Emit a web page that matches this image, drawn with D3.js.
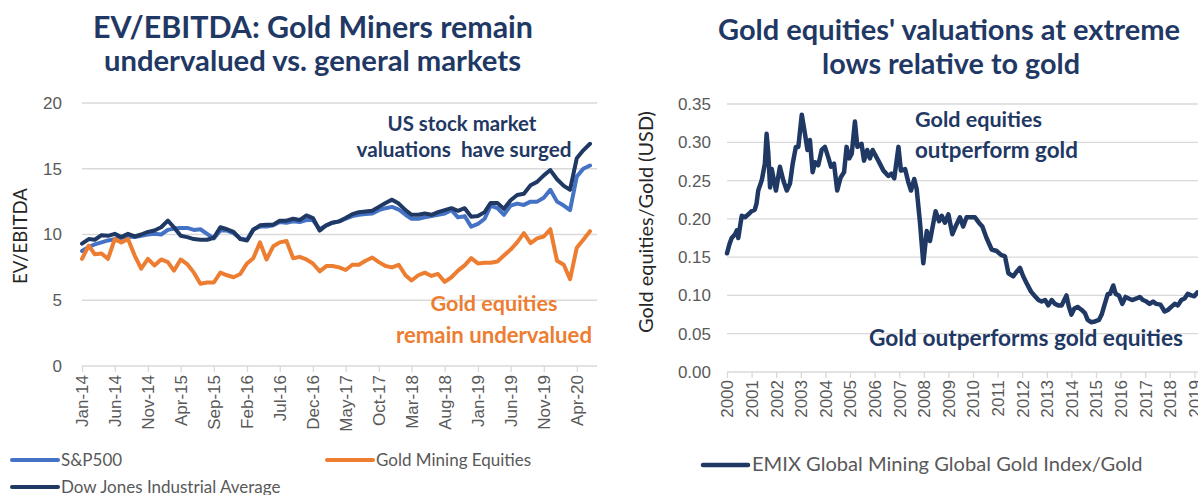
<!DOCTYPE html>
<html>
<head>
<meta charset="utf-8">
<script src="https://cdn.jsdelivr.net/npm/d3@7"></script>
<style>
  body { margin: 0; background: #fff; }
  svg { display: block; font-family: Lato, "Liberation Sans", sans-serif; }
</style>
</head>
<body>
<svg id="chart" width="1198" height="495"></svg>
<script>

//******************************************************************************
//**  Data
//******************************************************************************

// left panel: monthly EV/EBITDA, Jan-14 .. Jun-20
var evStart = new Date(2014, 0, 1);
var evTickLabels = ["Jan-14","Jun-14","Nov-14","Apr-15","Sep-15","Feb-16","Jul-16","Dec-16",
                    "May-17","Oct-17","Mar-18","Aug-18","Jan-19","Jun-19","Nov-19","Apr-20"];

var sp500 = [
  8.75, 9.05, 9.25, 9.4, 9.55, 9.65, 9.75, 9.85, 9.8, 9.9,
  10.0, 10.05, 10.0, 10.35, 10.45, 10.5, 10.5, 10.35, 10.4, 10.05,
  9.7, 10.3, 10.3, 10.1, 9.7, 9.6, 10.4, 10.6, 10.6, 10.7,
  10.95, 10.9, 11.0, 10.95, 11.1, 11.1, 10.4, 10.7, 10.9, 11.0,
  11.2, 11.4, 11.5, 11.55, 11.6, 11.85, 12.0, 12.1, 11.9, 11.5,
  11.2, 11.2, 11.3, 11.4, 11.5, 11.6, 11.85, 11.3, 11.4, 10.6,
  10.8, 11.2, 12.2, 12.0, 11.5, 12.2, 12.35, 12.25, 12.5, 12.5,
  12.8, 13.4, 12.5, 12.2, 11.85, 14.4, 15.0, 15.25
];

var dowJones = [
  9.3, 9.65, 9.6, 9.95, 9.9, 10.05, 9.8, 10.05, 9.85, 10.0,
  10.2, 10.3, 10.55, 11.05, 10.55, 9.9, 9.8, 9.65, 9.6, 9.6,
  9.75, 10.55, 10.4, 10.2, 9.65, 9.55, 10.35, 10.7, 10.75, 10.75,
  11.05, 11.05, 11.2, 11.1, 11.45, 11.25, 10.3, 10.7, 10.9, 11.0,
  11.25, 11.55, 11.7, 11.75, 11.8, 12.1, 12.4, 12.65, 12.35, 11.85,
  11.5, 11.5, 11.6, 11.5, 11.7, 11.85, 12.0, 11.8, 12.0, 11.35,
  11.4, 11.7, 12.4, 12.4, 11.95, 12.6, 13.0, 13.1, 13.75, 14.0,
  14.5, 14.9, 14.2, 13.7, 13.4, 15.8, 16.4, 16.9
];

var goldMiners = [
  8.15, 9.15, 8.5, 8.55, 8.15, 9.65, 9.4, 9.65, 8.4, 7.4,
  8.15, 7.65, 8.1, 7.9, 7.25, 8.1, 7.75, 7.1, 6.25, 6.35,
  6.35, 7.1, 6.9, 6.75, 7.0, 7.8, 8.2, 9.4, 8.1, 9.1,
  9.4, 9.5, 8.2, 8.3, 8.1, 7.8, 7.2, 7.6, 7.6, 7.5,
  7.3, 7.7, 7.7, 8.0, 8.25, 7.9, 7.6, 7.5, 7.7, 6.9,
  6.5, 6.9, 7.1, 6.85, 7.0, 6.4, 6.75, 7.25, 7.65, 8.2,
  7.8, 7.85, 7.85, 7.95, 8.4, 8.85, 9.4, 10.1, 9.35, 9.7,
  9.85, 10.4, 8.0, 7.7, 6.6, 9.0, 9.6, 10.25
];

// right panel: EMIX Global Mining Global Gold Index / Gold
var emixYears = [
  2000.0, 2000.1, 2000.19, 2000.33, 2000.4, 2000.46, 2000.53, 2000.6, 2000.73, 2000.87,
  2001.0, 2001.13, 2001.2, 2001.27, 2001.41, 2001.54, 2001.61, 2001.68, 2001.75, 2001.82,
  2001.91, 2001.99, 2002.15, 2002.29, 2002.43, 2002.56, 2002.67, 2002.8, 2002.9, 2003.04,
  2003.17, 2003.27, 2003.37, 2003.48, 2003.58, 2003.71, 2003.85, 2003.98, 2004.12, 2004.23,
  2004.35, 2004.48, 2004.62, 2004.76, 2004.86, 2004.97, 2005.07, 2005.2, 2005.3, 2005.47,
  2005.57, 2005.7, 2005.81, 2005.92, 2006.0, 2006.15, 2006.36, 2006.56, 2006.68, 2006.8,
  2006.97, 2007.07, 2007.24, 2007.37, 2007.48, 2007.61, 2007.71, 2007.84, 2007.98, 2008.12,
  2008.25, 2008.39, 2008.48, 2008.62, 2008.73, 2008.86, 2009.0, 2009.16, 2009.29, 2009.47,
  2009.6, 2009.74, 2009.94, 2010.08, 2010.24, 2010.38, 2010.55, 2010.76, 2010.96, 2011.14,
  2011.3, 2011.44, 2011.64, 2011.77, 2011.91, 2012.04, 2012.18, 2012.36, 2012.52, 2012.66,
  2012.79, 2012.93, 2013.06, 2013.2, 2013.33, 2013.47, 2013.6, 2013.8, 2013.9, 2014.0,
  2014.12, 2014.25, 2014.42, 2014.55, 2014.66, 2014.8, 2014.96, 2015.12, 2015.23, 2015.34,
  2015.48, 2015.57, 2015.7, 2015.8, 2015.93, 2016.07, 2016.2, 2016.33, 2016.47, 2016.65,
  2016.78, 2016.91, 2017.05, 2017.18, 2017.32, 2017.45, 2017.62, 2017.79, 2017.92, 2018.06,
  2018.2, 2018.33, 2018.47, 2018.6, 2018.73, 2018.87, 2019.0, 2019.12, 2019.3
];

var emixRatio = [
  0.155, 0.167, 0.175, 0.18, 0.185, 0.175, 0.19, 0.204, 0.202, 0.206,
  0.21, 0.212, 0.22, 0.237, 0.25, 0.272, 0.311, 0.285, 0.241, 0.265,
  0.25, 0.237, 0.268, 0.25, 0.237, 0.246, 0.272, 0.294, 0.294, 0.336,
  0.311, 0.29, 0.303, 0.261, 0.274, 0.27, 0.29, 0.294, 0.28, 0.268,
  0.272, 0.237, 0.254, 0.261, 0.294, 0.279, 0.285, 0.327, 0.294, 0.298,
  0.276, 0.29, 0.279, 0.29, 0.285, 0.276, 0.263, 0.256, 0.259, 0.253,
  0.294, 0.263, 0.265, 0.248, 0.237, 0.252, 0.239, 0.197, 0.142, 0.184,
  0.171, 0.195, 0.21, 0.197, 0.204, 0.195, 0.206, 0.18, 0.19, 0.202,
  0.19, 0.202, 0.202, 0.202, 0.195, 0.19, 0.175, 0.16, 0.158, 0.153,
  0.151, 0.129, 0.125, 0.131, 0.136, 0.125, 0.116, 0.105, 0.099, 0.094,
  0.092, 0.094, 0.087, 0.094, 0.089, 0.087, 0.087, 0.10, 0.085, 0.075,
  0.083, 0.085, 0.081, 0.077, 0.068, 0.065, 0.066, 0.068, 0.075, 0.087,
  0.102, 0.102, 0.113, 0.102, 0.10, 0.089, 0.098, 0.096, 0.094, 0.096,
  0.098, 0.094, 0.092, 0.089, 0.092, 0.089, 0.088, 0.079, 0.081, 0.085,
  0.089, 0.087, 0.094, 0.096, 0.102, 0.10, 0.099, 0.104, 0.10
];

var yearLabels = ["2000","2001","2002","2003","2004","2005","2006","2007","2008","2009",
                  "2010","2011","2012","2013","2014","2015","2016","2017","2018","2019"];


//******************************************************************************
//**  Styles
//******************************************************************************
var navy = "#1F3864", blue = "#4472C4", orange = "#ED7D31";
var gridColor = "#D9D9D9", tickGray = "#595959";

var svg = d3.select("#chart");


//**************************************************************************
//** fitWidth - scale font size so the text spans a given width
//**************************************************************************
var fitWidth = function(sel, w){
    sel.each(function(){
        var fs = parseFloat(this.getAttribute("font-size"));
        var len = this.getComputedTextLength();
        if (len > 0) this.setAttribute("font-size", (fs * w / len).toFixed(2));
    });
    return sel;
};

var addText = function(g, str, x, y, size, color, anchor, bold, width){
    var t = g.append("text")
        .attr("x", x).attr("y", y)
        .attr("font-size", size)
        .attr("fill", color)
        .attr("text-anchor", anchor)
        .attr("font-weight", bold ? "bold" : "normal")
        .style("white-space", "pre")
        .text(str);
    if (width) fitWidth(t, width);
    return t;
};


//******************************************************************************
//**  Left chart
//******************************************************************************
var left = svg.append("g");

var months = sp500.map(function(d, i){ return d3.timeMonth.offset(evStart, i); });
var xL = d3.scaleTime().domain([months[0], months[months.length - 1]]).range([82, 590]);
var yL = d3.scaleLinear().domain([0, 20]).range([366, 103]);
var plotRightL = 597;

// gridlines
left.append("g").selectAll("line")
    .data(yL.ticks(4))
    .enter().append("line")
    .attr("x1", 82).attr("x2", plotRightL)
    .attr("y1", function(d){ return yL(d); })
    .attr("y2", function(d){ return yL(d); })
    .attr("stroke", gridColor).attr("stroke-width", 1.3);

// y axis labels
var yAxisL = d3.axisLeft(yL).tickValues(yL.ticks(4)).tickSize(0).tickPadding(20);
left.append("g").attr("transform", "translate(82,0)").call(yAxisL)
    .call(function(g){ g.select(".domain").remove(); })
    .selectAll("text")
    .attr("font-size", 17).attr("fill", tickGray).attr("font-family", null);

// x axis
var tickIdx = evTickLabels.map(function(d, i){ return i * 5; });
var xAxisL = d3.axisBottom(xL)
    .tickValues(tickIdx.map(function(i){ return months[i]; }))
    .tickFormat(function(d, i){ return evTickLabels[i]; })
    .tickSize(6);
var gx = left.append("g").attr("transform", "translate(0,366)").call(xAxisL);
gx.select(".domain").remove();
gx.selectAll(".tick line").attr("stroke", gridColor).attr("stroke-width", 1.3);
gx.selectAll(".tick text")
    .attr("font-size", 17).attr("fill", tickGray).attr("font-family", null)
    .attr("text-anchor", "end")
    .attr("transform", "rotate(-90)")
    .attr("x", -9).attr("y", 0).attr("dy", "0.35em");

// lines
var lineL = d3.line()
    .x(function(d, i){ return xL(months[i]); })
    .y(function(d){ return yL(d); });

[[sp500, blue], [goldMiners, orange], [dowJones, navy]].forEach(function(s){
    left.append("path")
        .datum(s[0])
        .attr("d", lineL)
        .attr("fill", "none")
        .attr("stroke", s[1])
        .attr("stroke-width", 4)
        .attr("stroke-linejoin", "round")
        .attr("stroke-linecap", "round");
});

// titles and notes
addText(left, "EV/EBITDA: Gold Miners remain", 313, 38, 26, navy, "middle", true, 440);
addText(left, "undervalued vs. general markets", 312.5, 71, 26, navy, "middle", true, 417);

addText(left, "US stock market", 462, 131, 20, navy, "middle", true, 149);
addText(left, "valuations  have surged", 464, 157, 20, navy, "middle", true, 215);
addText(left, "Gold equities", 494, 311, 20, orange, "middle", true, 127);
addText(left, "remain undervalued", 494, 343, 20, orange, "middle", true, 196);

addText(left, "EV/EBITDA", 0, 0, 20, "#262626", "middle", false, 96)
    .attr("transform", "translate(27,236) rotate(-90)");

// legend
var legendL = [
    {name: "S&P500", color: blue, x: 12, y: 460},
    {name: "Gold Mining Equities", color: orange, x: 327, y: 460},
    {name: "Dow Jones Industrial Average", color: navy, x: 12, y: 487}
];
legendL.forEach(function(d){
    left.append("line")
        .attr("x1", d.x).attr("x2", d.x + 46)
        .attr("y1", d.y).attr("y2", d.y)
        .attr("stroke", d.color).attr("stroke-width", 4).attr("stroke-linecap", "round");
    addText(left, d.name, d.x + 49, d.y + 6, 17, tickGray, "start", false);
});


//******************************************************************************
//**  Right chart
//******************************************************************************
var right = svg.append("g");

var xR = d3.scaleLinear().domain([2000, 2019]).range([727, 1194.4]);
var yR = d3.scaleLinear().domain([0, 0.35]).range([372, 104]);

right.append("g").selectAll("line")
    .data(d3.range(0, 8).map(function(i){ return i * 0.05; }))
    .enter().append("line")
    .attr("x1", 727).attr("x2", 1198)
    .attr("y1", function(d){ return yR(d); })
    .attr("y2", function(d){ return yR(d); })
    .attr("stroke", gridColor).attr("stroke-width", 1.3);

var yAxisR = d3.axisLeft(yR)
    .tickValues(d3.range(0, 8).map(function(i){ return i * 0.05; }))
    .tickFormat(d3.format(".2f"))
    .tickSize(0).tickPadding(16);
right.append("g").attr("transform", "translate(727,0)").call(yAxisR)
    .call(function(g){ g.select(".domain").remove(); })
    .selectAll("text")
    .attr("font-size", 17).attr("fill", tickGray).attr("font-family", null);

var xAxisR = d3.axisBottom(xR)
    .tickValues(yearLabels.map(Number))
    .tickFormat(function(d, i){ return yearLabels[i]; })
    .tickSize(6);
var gxr = right.append("g").attr("transform", "translate(0,372)").call(xAxisR);
gxr.select(".domain").remove();
gxr.selectAll(".tick line").attr("stroke", gridColor).attr("stroke-width", 1.3);
gxr.selectAll(".tick text")
    .attr("font-size", 17).attr("fill", tickGray).attr("font-family", null)
    .attr("text-anchor", "end")
    .attr("transform", "rotate(-90)")
    .attr("x", -8).attr("y", 0).attr("dy", "0.35em");

var lineR = d3.line()
    .x(function(d, i){ return xR(emixYears[i]); })
    .y(function(d){ return yR(d); });

right.append("path")
    .datum(emixRatio)
    .attr("d", lineR)
    .attr("fill", "none")
    .attr("stroke", navy)
    .attr("stroke-width", 4.5)
    .attr("stroke-linejoin", "round")
    .attr("stroke-linecap", "round");

addText(right, "Gold equities' valuations at extreme", 949, 40, 26, navy, "middle", true, 462);
addText(right, "lows relative to gold", 951, 74, 26, navy, "middle", true, 258);

addText(right, "Gold equities", 915, 127, 20, navy, "start", true, 127);
addText(right, "outperform gold", 915, 158, 20, navy, "start", true, 163);
addText(right, "Gold outperforms gold equities", 869, 346, 20, navy, "start", true, 314);

addText(right, "Gold equities/Gold (USD)", 0, 0, 20, "#262626", "middle", false, 222)
    .attr("transform", "translate(653,222) rotate(-90)");

right.append("line")
    .attr("x1", 703).attr("x2", 748)
    .attr("y1", 465).attr("y2", 465)
    .attr("stroke", navy).attr("stroke-width", 4.5).attr("stroke-linecap", "round");
addText(right, "EMIX Global Mining Global Gold Index/Gold", 752, 471, 18, tickGray, "start", false, 391);

</script>
</body>
</html>
